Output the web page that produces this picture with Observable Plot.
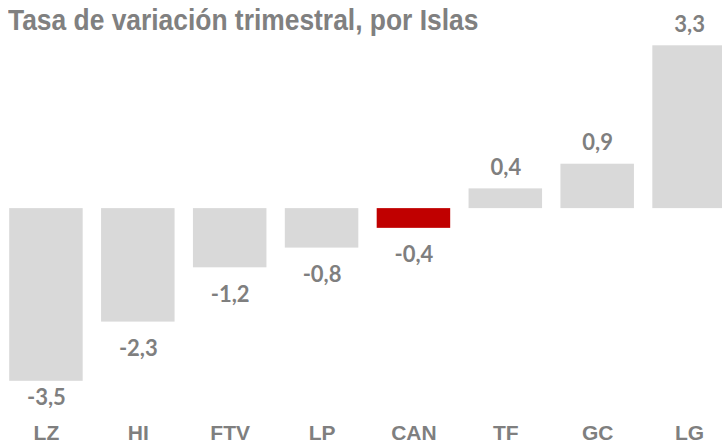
<!DOCTYPE html>
<html>
<head>
<meta charset="utf-8">
<script src="https://cdn.jsdelivr.net/npm/d3@7"></script>
<script src="https://cdn.jsdelivr.net/npm/@observablehq/plot@0.6"></script>
<style>
  html, body { margin: 0; padding: 0; background: #fff; overflow: hidden; }
  #wrap { position: relative; width: 722px; height: 444px; }
  #title { position: absolute; left: 8px; top: 4px; font-family: "Liberation Sans Narrow", "Arial Narrow", "Liberation Sans", sans-serif; font-weight: bold; font-size: 29px; color: #808080; white-space: nowrap; transform: scaleX(0.91); transform-origin: 0 0; }
</style>
</head>
<body>
<div id="wrap">
  <div id="chart"></div>
  <div id="title">Tasa de variación trimestral, por Islas</div>
</div>
<script>
const islas = ["LZ", "HI", "FTV", "LP", "CAN", "TF", "GC", "LG"];
const valores = [-3.5, -2.3, -1.2, -0.8, -0.4, 0.4, 0.9, 3.3];
const destacada = "CAN";

const data = islas.map((isla, i) => ({isla, valor: valores[i]}));
const fmt = v => d3.format(".1f")(v).replace(".", ",").replace("−", "-");

const labelFont = "Lato, 'Open Sans', sans-serif";
const axisFont = "'Liberation Sans Narrow', 'Arial Narrow', 'Liberation Sans', sans-serif";

const chart = Plot.plot({
  width: 722,
  height: 444,
  margin: 0,
  x: {type: "band", domain: islas, range: [0, 735], paddingInner: 0.2, paddingOuter: 0.1, round: false, axis: null},
  y: {domain: [-3.5, 3.3], range: [380.8, 45.3], axis: null},
  marks: [
    Plot.barY(data, {x: "isla", y: "valor", fill: d => d.isla === destacada ? "#c00000" : "#d9d9d9"}),
    Plot.text(data.filter(d => d.valor > 0), {x: "isla", y: "valor", text: d => fmt(d.valor), lineAnchor: "bottom", dy: -14, fill: "#7f7f7f", fontFamily: labelFont, fontWeight: "bold", fontSize: 22}),
    Plot.text(data.filter(d => d.valor < 0 && d.valor > -3), {x: "isla", y: "valor", text: d => fmt(d.valor), lineAnchor: "bottom", dy: 34, fill: "#7f7f7f", fontFamily: labelFont, fontWeight: "bold", fontSize: 22}),
    Plot.text(data.filter(d => d.valor <= -3), {x: "isla", y: "valor", text: d => fmt(d.valor), lineAnchor: "bottom", dy: 24, fill: "#7f7f7f", fontFamily: labelFont, fontWeight: "bold", fontSize: 22}),
    Plot.text(islas, {x: d => d, frameAnchor: "bottom", lineAnchor: "bottom", dy: -5, text: d => d, fill: "#7f7f7f", fontFamily: axisFont, fontWeight: "bold", fontSize: 21})
  ]
});
document.getElementById("chart").appendChild(chart);
</script>
</body>
</html>
